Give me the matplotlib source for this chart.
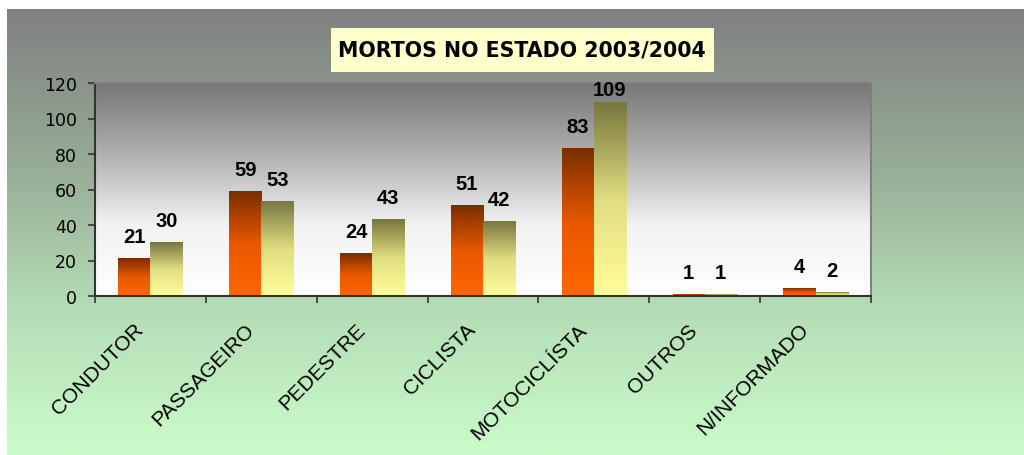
import numpy as np
import matplotlib
matplotlib.use("Agg")
import matplotlib.pyplot as plt
from matplotlib.colors import LinearSegmentedColormap
from matplotlib.patches import Rectangle
from matplotlib.transforms import ScaledTranslation

# data
categories = ["CONDUTOR", "PASSAGEIRO", "PEDESTRE", "CICLISTA",
              "MOTOCICLÍSTA", "OUTROS", "N/INFORMADO"]
mortos_2003 = [21, 59, 24, 51, 83, 1, 4]
mortos_2004 = [30, 53, 43, 42, 109, 1, 2]
yticks = [0, 20, 40, 60, 80, 100, 120]

plt.rcParams["font.family"] = ["Liberation Sans", "DejaVu Sans"]

fig = plt.figure(figsize=(10.24, 4.56), dpi=100)
fig.patch.set_facecolor("white")

# chart background: gray on top to light green at the bottom
bg_cmap = LinearSegmentedColormap.from_list("bg", ["#cbfccb", "#b4dcb4", "#95a995", "#808080"])
bg = fig.add_axes([7 / 1024, 0, 1017 / 1024, 446 / 456], zorder=0)
bg.imshow(np.linspace(0, 1, 256).reshape(-1, 1), aspect="auto", cmap=bg_cmap,
          origin="lower", extent=[0, 1, 0, 1])
bg.set_axis_off()

# title box
fig.patches.append(Rectangle((331 / 1024, 1 - 73 / 456), 383 / 1024, 44 / 456,
                             transform=fig.transFigure, facecolor="#ffffcc",
                             edgecolor="none", zorder=1))
fig.text(522 / 1024, 1 - 50 / 456, "MORTOS NO ESTADO 2003/2004", ha="center", va="center",
         fontsize=14.8, fontweight="bold", color="black", family="DejaVu Sans", zorder=2)

ax = fig.add_axes([95 / 1024, 1 - 297 / 456, 776 / 1024, 213 / 456], zorder=2)
ax.patch.set_alpha(0)
ymax = 120

# plot area gradient: gray top to white bottom
pa_cmap = LinearSegmentedColormap.from_list("pa", ["#ffffff", "#f2f2f2", "#b0b0b0", "#777777"])
ax.imshow(np.linspace(0, 1, 256).reshape(-1, 1), aspect="auto", cmap=pa_cmap,
          origin="lower", extent=[0, 1, 0, 1], transform=ax.transAxes, zorder=0)

x = np.arange(len(categories))
w = 0.29
bars1 = ax.bar(x - w / 2, mortos_2003, w, color="none", zorder=2)
bars2 = ax.bar(x + w / 2, mortos_2004, w, color="none", zorder=2)

orange = LinearSegmentedColormap.from_list("or", ["#ff6600", "#e85800", "#7a2e00"])
yellow = LinearSegmentedColormap.from_list("ye", ["#ffff99", "#e0dd80", "#77773f"])
grad = np.linspace(0, 1, 128).reshape(-1, 1)
axes_h_pt = 213 * 72 / 100  # plot area height in points
for bars, cmap in ((bars1, orange), (bars2, yellow)):
    for b in bars:
        x0, h, bw = b.get_x(), b.get_height(), b.get_width()
        ax.imshow(grad, aspect="auto", cmap=cmap, origin="lower",
                  extent=[x0, x0 + bw, 0, h], zorder=2, interpolation="bilinear")
        # keep the label inside the plot area, like Excel does
        room = (ymax - h) / ymax * axes_h_pt
        off = min(12, room + 1.5 - 10.5)
        ax.annotate(f"{h:g}", (x0 + bw / 2, h), xytext=(0, off), textcoords="offset points",
                    ha="center", va="baseline", fontsize=14.5, fontweight="bold")

ax.set_xlim(-0.5, len(categories) - 0.5)
ax.set_ylim(0, ymax)
ax.set_yticks(yticks)
ax.set_yticklabels([str(t) for t in yticks], family="DejaVu Sans")
ax.tick_params(axis="y", direction="out", length=5, width=1.2, color="#333333",
               labelsize=12.5, pad=8)

ax.set_xticks(x)
ax.set_xticklabels(categories, rotation=45, ha="right", rotation_mode="anchor")
ax.tick_params(axis="x", which="major", length=0, labelsize=15, pad=17)
shift = ScaledTranslation(-0.17, 0, fig.dpi_scale_trans)
for lbl in ax.get_xticklabels():
    lbl.set_transform(lbl.get_transform() + shift)
ax.set_xticks(np.arange(-0.5, len(categories)), minor=True)
ax.tick_params(axis="x", which="minor", direction="out", length=5, width=1.2, color="#333333")

for s in ("left", "bottom"):
    ax.spines[s].set_color("#333333")
    ax.spines[s].set_linewidth(1.5)
for s in ("right", "top"):
    ax.spines[s].set_color("#808080")
    ax.spines[s].set_linewidth(1.5)

fig.savefig("out.png", dpi=100)
